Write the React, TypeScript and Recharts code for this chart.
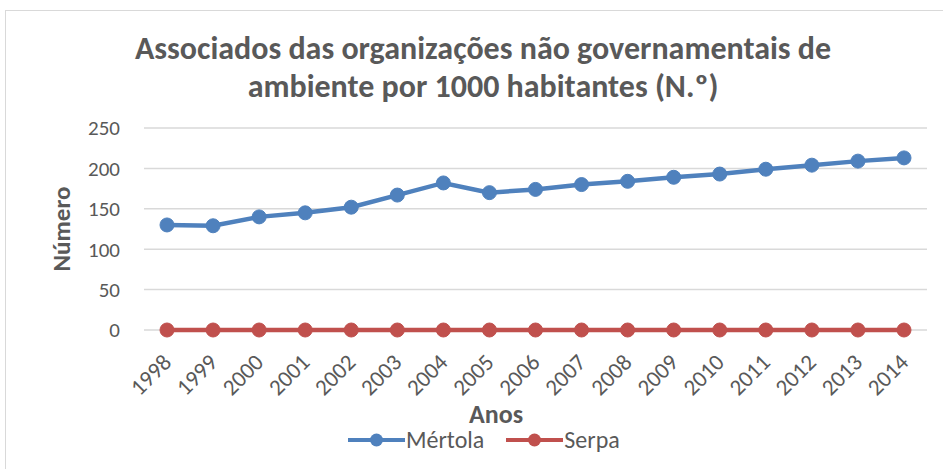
import React from "react";
import { LineChart, Line, XAxis, YAxis, CartesianGrid, Legend } from "recharts";

const years = [
  "1998", "1999", "2000", "2001", "2002", "2003", "2004", "2005", "2006",
  "2007", "2008", "2009", "2010", "2011", "2012", "2013", "2014",
];
const mertola = [130, 129, 140, 145, 152, 167, 182, 170, 174, 180, 184, 189, 193, 199, 204, 209, 213];
const serpa = [0, 0, 0, 0, 0, 0, 0, 0, 0, 0, 0, 0, 0, 0, 0, 0, 0];
const yTicks = [0, 50, 100, 150, 200, 250];

const FONT = "Carlito, Lato, sans-serif";
const TEXT = "#595959";
const BLUE = "#4F81BD";
const RED = "#C0504D";

const chartData = years.map((year, i) => ({
  year,
  mertola: mertola[i],
  serpa: serpa[i],
}));

// eslint-disable-next-line @typescript-eslint/no-explicit-any
function YearTick(props: any) {
  const { x, y, payload } = props;
  const ty = y + 28;
  return (
    <text
      x={x}
      y={ty}
      dy="0.35em"
      textAnchor="end"
      transform={`rotate(-45, ${x}, ${ty})`}
      fill={TEXT}
      fontSize={23}
      fontFamily={FONT}
    >
      {payload.value}
    </text>
  );
}

function LegendBox() {
  const items = [
    { name: "Mértola", color: BLUE },
    { name: "Serpa", color: RED },
  ];
  return (
    <div style={{ display: "flex", alignItems: "center", fontFamily: FONT, fontSize: 24, color: TEXT }}>
      {items.map((it, i) => (
        <div key={it.name} style={{ display: "flex", alignItems: "center", marginLeft: i ? 22 : 0 }}>
          <svg width={57} height={18}>
            <line x1={0} y1={9} x2={57} y2={9} stroke={it.color} strokeWidth={4} strokeLinecap="round" />
            <circle cx={28.5} cy={9} r={6.5} fill={it.color} />
          </svg>
          <span style={{ marginLeft: 1 }}>{it.name}</span>
        </div>
      ))}
    </div>
  );
}

export default function App() {
  return (
    <div
      style={{
        position: "absolute",
        left: 0,
        top: 0,
        width: 943,
        height: 469,
        overflow: "hidden",
        background: "#fff",
      }}
    >
      <div
        style={{
          position: "absolute",
          left: 5,
          top: 10,
          width: 980,
          height: 500,
          border: "1px solid #d9d9d9",
        }}
      />
      <div
        style={{
          position: "absolute",
          left: 0,
          top: 30,
          width: 966,
          textAlign: "center",
          fontFamily: FONT,
          fontWeight: 700,
          fontSize: 32,
          lineHeight: "38px",
          color: TEXT,
        }}
      >
        Associados das organizações não governamentais de
        <br />
        ambiente por 1000 habitantes (N.º)
      </div>
      <div
        style={{
          position: "absolute",
          left: 62 - 60,
          top: 229 - 15,
          width: 120,
          height: 30,
          lineHeight: "30px",
          textAlign: "center",
          transform: "rotate(-90deg)",
          fontFamily: FONT,
          fontWeight: 700,
          fontSize: 25,
          color: TEXT,
        }}
      >
        Número
      </div>
      <div
        style={{
          position: "absolute",
          left: 496 - 60,
          top: 414 - 15,
          width: 120,
          lineHeight: "30px",
          textAlign: "center",
          fontFamily: FONT,
          fontWeight: 700,
          fontSize: 26,
          color: TEXT,
        }}
      >
        Anos
      </div>
      <LineChart
        width={943}
        height={469}
        data={chartData}
        margin={{ top: 128, right: 16, bottom: 79, left: 84 }}
        style={{ position: "absolute", left: 0, top: 0 }}
      >
        <CartesianGrid vertical={false} stroke="#d9d9d9" strokeWidth={1.5} />
        <XAxis
          dataKey="year"
          height={60}
          axisLine={false}
          tickLine={false}
          tickSize={0}
          tickMargin={0}
          interval={0}
          padding={{ left: 23, right: 23 }}
          tick={<YearTick />}
        />
        <YAxis
          width={60}
          domain={[0, 250]}
          ticks={yTicks}
          axisLine={false}
          tickLine={false}
          tickSize={0}
          tickMargin={24}
          tick={{ fill: TEXT, fontSize: 21, fontFamily: FONT }}
        />
        <Legend
          layout="horizontal"
          verticalAlign="middle"
          align="center"
          content={<LegendBox />}
          wrapperStyle={{ left: 348, top: 425, width: "auto" }}
        />
        <Line
          dataKey="serpa"
          name="Serpa"
          stroke={RED}
          strokeWidth={4.5}
          dot={{ r: 7, fill: RED, stroke: RED, strokeWidth: 1 }}
          isAnimationActive={false}
        />
        <Line
          dataKey="mertola"
          name="Mértola"
          stroke={BLUE}
          strokeWidth={4.5}
          dot={{ r: 7, fill: BLUE, stroke: BLUE, strokeWidth: 1 }}
          isAnimationActive={false}
        />
      </LineChart>
    </div>
  );
}
